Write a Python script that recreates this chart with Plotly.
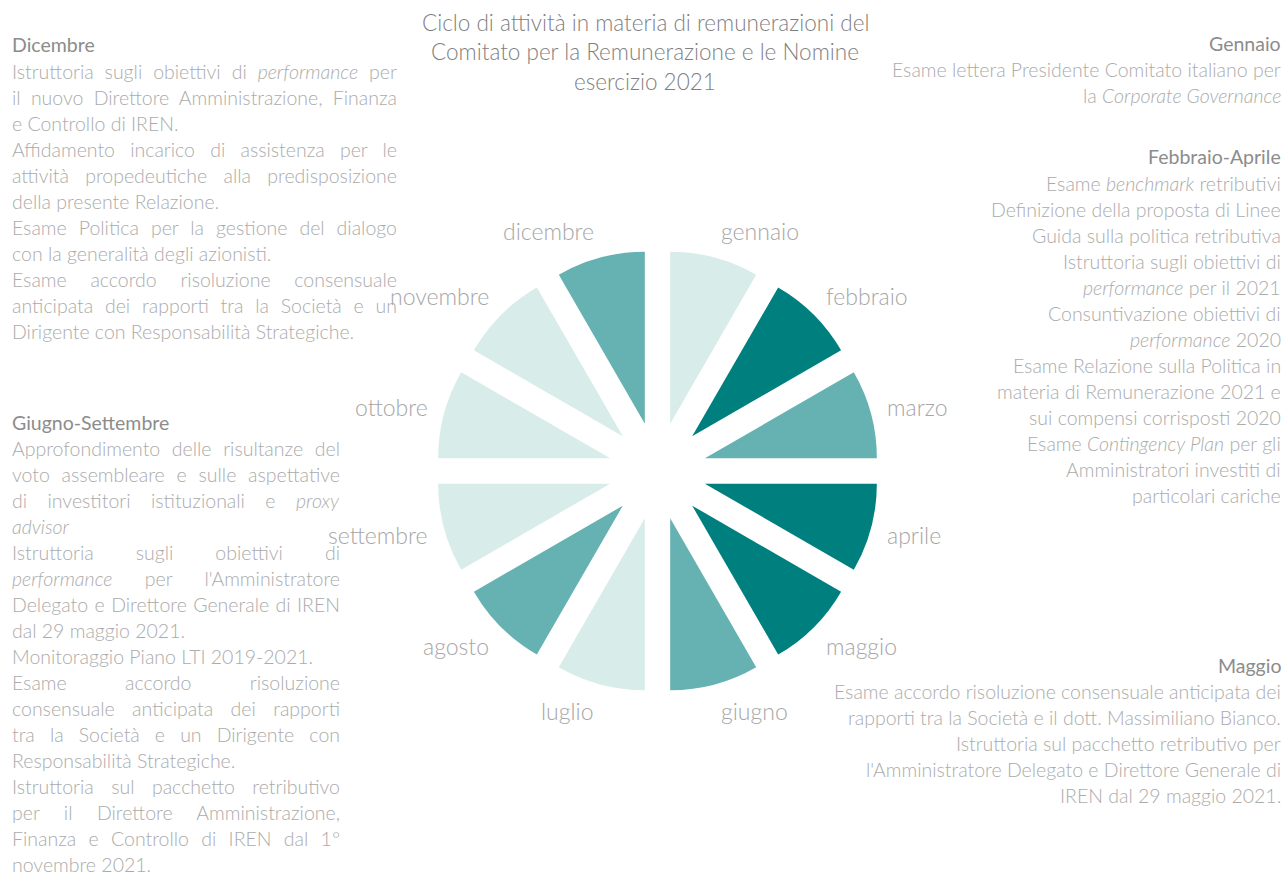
import json
import math
import plotly.graph_objects as go

W, H = 1286, 876

# ---------------- data ----------------
months = ["gennaio", "febbraio", "marzo", "aprile", "maggio", "giugno",
          "luglio", "agosto", "settembre", "ottobre", "novembre", "dicembre"]
values = [1, 1, 1, 1, 1, 1, 1, 1, 1, 1, 1, 1]
levels = ["low", "high", "mid", "high", "high", "mid",
          "low", "mid", "low", "low", "low", "mid"]

title_lines = ["Ciclo di attività in materia di remunerazioni del",
               "Comitato per la Remunerazione e le Nomine",
               "esercizio 2021"]

# each line: (text, ends_paragraph)
dicembre_head = "Dicembre"
dicembre_lines = [
    ("Istruttoria sugli obiettivi di <i>performance</i> per", False),
    ("il nuovo Direttore Amministrazione, Finanza", False),
    ("e Controllo di IREN.", True),
    ("Affidamento incarico di assistenza per le", False),
    ("attività propedeutiche alla predisposizione", False),
    ("della presente Relazione.", True),
    ("Esame Politica per la gestione del dialogo", False),
    ("con la generalità degli azionisti.", True),
    ("Esame accordo risoluzione consensuale", False),
    ("anticipata dei rapporti tra la Società e un", False),
    ("Dirigente con Responsabilità Strategiche.", True),
]

gennaio_head = "Gennaio"
gennaio_lines = [
    ("Esame lettera Presidente Comitato italiano per", True),
    ("la <i>Corporate Governance</i>", True),
]

febapr_head = "Febbraio-Aprile"
febapr_lines = [
    ("Esame <i>benchmark</i> retributivi", True),
    ("Definizione della proposta di Linee", True),
    ("Guida sulla politica retributiva", True),
    ("Istruttoria sugli obiettivi di", True),
    ("<i>performance</i> per il 2021", True),
    ("Consuntivazione obiettivi di", True),
    ("<i>performance</i> 2020", True),
    ("Esame Relazione sulla Politica in", True),
    ("materia di Remunerazione 2021 e", True),
    ("sui compensi corrisposti 2020", True),
    ("Esame <i>Contingency Plan</i> per gli", True),
    ("Amministratori investiti di", True),
    ("particolari cariche", True),
]

giuset_head = "Giugno-Settembre"
giuset_lines = [
    ("Approfondimento delle risultanze del", False),
    ("voto assembleare e sulle aspettative", False),
    ("di investitori istituzionali e <i>proxy</i>", False),
    ("<i>advisor</i>", True),
    ("Istruttoria sugli obiettivi di", False),
    ("<i>performance</i> per l'Amministratore", False),
    ("Delegato e Direttore Generale di IREN", False),
    ("dal 29 maggio 2021.", True),
    ("Monitoraggio Piano LTI 2019-2021.", True),
    ("Esame accordo risoluzione", False),
    ("consensuale anticipata dei rapporti", False),
    ("tra la Società e un Dirigente con", False),
    ("Responsabilità Strategiche.", True),
    ("Istruttoria sul pacchetto retributivo", False),
    ("per il Direttore Amministrazione,", False),
    ("Finanza e Controllo di IREN dal 1°", False),
    ("novembre 2021.", True),
]

maggio_head = "Maggio"
maggio_lines = [
    ("Esame accordo risoluzione consensuale anticipata dei", True),
    ("rapporti tra la Società e il dott. Massimiliano Bianco.", True),
    ("Istruttoria sul pacchetto retributivo per", True),
    ("l'Amministratore Delegato e Direttore Generale di", True),
    ("IREN dal 29 maggio 2021.", True),
]

# ---------------- style ----------------
level_colors = {"low": "#D8ECEA", "mid": "#66B2B2", "high": "#007F7F"}
FONT = "Lato"
HEAD_COLOR = "#8C8C8C"
BODY_COLOR = "#ABABAB"
LABEL_COLOR = "#A6A6A6"
TITLE_COLOR = "#7F7F7F"
BODY_SIZE = 19.5
HEAD_SIZE = 19.5
LINE_STEP = 26

CX, CY = 657.5, 471.0   # pie centre in pixels
R = 172.0               # slice radius in pixels
PULL = 0.285
EXT = R * (1 + PULL)


def px(x):
    return x / W


def py(y):
    return 1 - y / H


fig = go.Figure()
fig.add_trace(go.Pie(
    labels=months, values=values, sort=False, direction="clockwise",
    rotation=0, pull=[PULL] * len(months), textinfo="none", hole=0,
    marker=dict(colors=[level_colors[l] for l in levels], line=dict(width=0)),
    domain=dict(x=[px(CX - EXT), px(CX + EXT)], y=[py(CY + EXT), py(CY - EXT)]),
    showlegend=False, hoverinfo="label",
))

annotations = []
justify = []  # (annotation index, target width in px)

# month labels around the pie
R_LAB = 236
for i, m in enumerate(months):
    th = math.radians(15 + 30 * i)
    s, c = math.sin(th), math.cos(th)
    lx = CX + R_LAB * s
    ly = CY - R_LAB * c
    annotations.append(dict(
        x=px(lx), y=py(ly), xref="paper", yref="paper", text=m, showarrow=False,
        xanchor="left" if s > 0 else "right", yanchor="middle",
        yshift=c * 12,
        font=dict(family=FONT, size=23, color=LABEL_COLOR, weight=300),
    ))

# title
for k, t in enumerate(title_lines):
    annotations.append(dict(
        x=px(645), y=py(22 + 30 * k), xref="paper", yref="paper", text=t,
        showarrow=False, xanchor="center", yanchor="middle",
        font=dict(family=FONT, size=22.5, color=TITLE_COLOR, weight=300),
    ))


def block(head, lines, x, y_head, align, width=None):
    anchor = "left" if align == "left" else "right"
    annotations.append(dict(
        x=px(x), y=py(y_head), xref="paper", yref="paper", text=head,
        showarrow=False, xanchor=anchor, yanchor="middle", align=align,
        font=dict(family=FONT, size=HEAD_SIZE, color=HEAD_COLOR),
    ))
    for k, (t, last) in enumerate(lines):
        if width is not None and not last:
            justify.append((len(annotations), width))
        annotations.append(dict(
            x=px(x), y=py(y_head + 26.5 + LINE_STEP * k), xref="paper", yref="paper",
            text=t, showarrow=False, xanchor=anchor, yanchor="middle", align=align,
            font=dict(family=FONT, size=BODY_SIZE, color=BODY_COLOR, weight=300),
        ))


block(dicembre_head, dicembre_lines, 10, 45, "left", width=385)
block(gennaio_head, gennaio_lines, 1283, 43, "right")
block(febapr_head, febapr_lines, 1283, 157, "right")
block(giuset_head, giuset_lines, 10, 422, "left", width=328)
block(maggio_head, maggio_lines, 1283, 665, "right")

fig.update_layout(
    width=W, height=H, margin=dict(l=0, r=0, t=0, b=0),
    paper_bgcolor="white", plot_bgcolor="white",
    annotations=annotations, showlegend=False,
)

# justify the paragraph lines of the left-hand blocks (as in the original)
post = """
document.body.style.margin='0';
document.body.style.overflow='hidden';
var gd = document.getElementById('{plot_id}');
var J = %s;
J.forEach(function(p){
  var g = gd.querySelector('g.annotation[data-index="' + p[0] + '"] text.annotation-text');
  if(!g) return;
  var txt = g.textContent;
  var n = (txt.match(/ /g) || []).length;
  if(!n) return;
  var w = g.getBBox().width;
  var extra = (p[1] - w) / n;
  if(extra > 0) g.style.wordSpacing = extra + 'px';
});
""" % json.dumps(justify)

fig.write_html("out.html", post_script=post, config={"displayModeBar": False})
